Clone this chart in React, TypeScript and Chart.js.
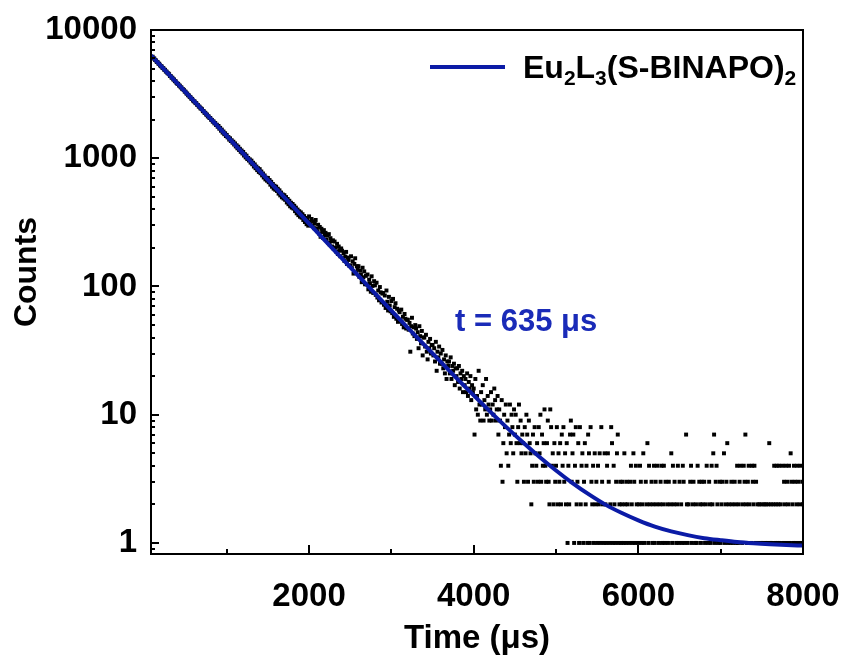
import { useEffect, useRef } from 'react';
import { Chart, registerables } from 'chart.js';

Chart.register(...registerables);

// Acquisition grid of the decay trace (μs)
const timeStart = 100;
const timeStep = 10;

// Photon counts per channel, 100–1990 μs
const earlyCounts = [
  6190, 6020, 5985, 5830, 5790, 5640, 5620, 5470, 5450, 5300,
  5220, 5200, 5050, 5040, 4900, 4890, 4750, 4730, 4610, 4580,
  4520, 4380, 4370, 4250, 4240, 4120, 4110, 3990, 3980, 3870,
  3810, 3800, 3690, 3680, 3580, 3560, 3460, 3450, 3400, 3310,
  3300, 3200, 3190, 3100, 3090, 3010, 2990, 2910, 2900, 2820,
  2780, 2770, 2690, 2690, 2610, 2600, 2530, 2520, 2450, 2440,
  2410, 2330, 2330, 2260, 2260, 2190, 2190, 2120, 2120, 2060,
  2060, 1995, 1990, 1930, 1935, 1870, 1880, 1815, 1825, 1760,
  1785, 1700, 1725, 1640, 1672, 1585, 1615, 1540, 1565, 1490,
  1520, 1455, 1462, 1398, 1430, 1362, 1381, 1322, 1345, 1280,
  1305, 1236, 1262, 1195, 1230, 1160, 1185, 1122, 1150, 1090,
  1120, 1050, 1076, 1015, 1048, 985, 1005, 960, 980, 925,
  958, 898, 922, 862, 895, 836, 861, 808, 836, 782,
  822, 764, 788, 735, 760, 708, 734, 684, 705, 668,
  702, 650, 676, 622, 655, 600, 630, 580, 610, 568,
  600, 556, 578, 530, 562, 513, 540, 496, 522, 485,
  515, 474, 498, 452, 481, 438, 466, 422, 450, 412,
  440, 405, 426, 387, 412, 372, 398, 360, 386, 350,
  378, 344, 366, 330, 354, 318, 342, 306, 330, 298,
];

// Photon counts per channel, 2000–3990 μs
const midCounts = [
  352, 318, 301, 336, 296, 322, 285, 309, 330, 281,
  270, 303, 259, 291, 244, 282, 266, 239, 275, 251,
  262, 231, 249, 220, 256, 213, 238, 226, 205, 229,
  196, 224, 201, 187, 215, 179, 205, 192, 172, 198,
  190, 166, 182, 158, 171, 186, 150, 168, 161, 145,
  146, 172, 139, 157, 126, 150, 166, 128, 144, 137,
  144, 119, 133, 124, 108, 140, 118, 131, 104, 121,
  104, 124, 95, 113, 106, 91, 120, 101, 89, 110,
  102, 86, 107, 82, 93, 78, 99, 90, 75, 88,
  89, 72, 85, 68, 93, 76, 65, 83, 71, 64,
  77, 62, 80, 58, 69, 74, 56, 67, 53, 65,
  63, 54, 66, 51, 58, 48, 61, 56, 47, 55,
  55, 46, 52, 31, 49, 57, 43, 48, 41, 50,
  47, 39, 44, 33, 49, 41, 36, 45, 29, 40,
  40, 34, 42, 31, 27, 37, 33, 39, 30, 35,
  35, 29, 33, 26, 37, 22, 31, 28, 34, 25,
  30, 25, 32, 23, 27, 21, 29, 19, 26, 24,
  26, 21, 28, 19, 24, 22, 25, 17, 23, 20,
  23, 18, 24, 16, 21, 19, 22, 15, 20, 17,
  19, 15, 21, 14, 18, 16, 20, 13, 17, 15,
];

// Photon counts per channel, 4000–8000 μs (0 = empty channel)
const tailCounts = [
  16, 7, 19, 11, 14, 10, 22, 12, 9, 15,
  12, 17, 9, 13, 11, 19, 10, 14, 12, 9,
  11, 15, 9, 12, 10, 16, 13, 9, 11, 14,
  7, 11, 9, 4, 13, 3, 6, 10, 8, 12,
  5, 9, 4, 7, 12, 6, 10, 8, 5, 11,
  7, 10, 6, 3, 8, 12, 6, 9, 5, 7,
  6, 3, 8, 5, 10, 7, 3, 9, 6, 5,
  2, 4, 7, 3, 8, 5, 4, 6, 3, 8,
  5, 10, 3, 7, 4, 6, 11, 4, 3, 6,
  9, 3, 2, 11, 8, 4, 5, 2, 6, 3,
  4, 8, 2, 5, 3, 6, 2, 7, 4, 8,
  3, 5, 2, 6, 1, 4, 2, 7, 9, 3,
  5, 7, 1, 4, 8, 2, 3, 6, 1, 8,
  2, 4, 5, 1, 3, 6, 2, 4, 1, 7,
  5, 1, 8, 3, 2, 4, 1, 5, 2, 3,
  1, 4, 2, 5, 1, 8, 3, 2, 1, 5,
  2, 1, 4, 5, 3, 1, 2, 8, 6, 1,
  4, 2, 1, 3, 5, 7, 1, 2, 3, 1,
  2, 3, 1, 5, 2, 1, 3, 2, 0, 1,
  3, 4, 2, 1, 5, 3, 1, 4, 2, 0,
  1, 2, 4, 3, 1, 2, 5, 1, 0, 3,
  2, 6, 1, 4, 2, 0, 3, 1, 2, 4,
  1, 3, 2, 4, 0, 1, 2, 3, 4, 1,
  2, 4, 1, 3, 0, 2, 1, 3, 0, 2,
  5, 1, 4, 2, 3, 0, 1, 2, 4, 1,
  3, 0, 2, 1, 4, 3, 1, 0, 7, 2,
  1, 2, 0, 3, 4, 1, 2, 3, 0, 1,
  2, 1, 4, 0, 3, 2, 1, 3, 2, 0,
  3, 1, 2, 4, 0, 1, 3, 2, 1, 4,
  2, 5, 7, 1, 3, 4, 2, 1, 0, 3,
  1, 2, 3, 0, 5, 1, 2, 3, 6, 1,
  2, 0, 1, 3, 2, 1, 0, 3, 2, 1,
  4, 1, 2, 3, 4, 0, 1, 2, 4, 3,
  7, 2, 1, 3, 4, 2, 0, 1, 4, 3,
  2, 4, 1, 3, 0, 2, 1, 2, 0, 1,
  2, 1, 0, 2, 1, 2, 0, 1, 2, 6,
  1, 2, 1, 0, 2, 4, 1, 2, 4, 1,
  2, 4, 1, 2, 0, 4, 1, 3, 2, 4,
  1, 3, 2, 4, 1, 5, 3, 2, 1, 4,
  3, 1, 2, 4, 3, 1, 2, 4, 1, 3,
  2,
];

// Mono-exponential fit (τ = 635 μs)
const fitTimes = [
  80, 200, 400, 600, 800, 1000, 1200, 1400, 1600, 1800,
  2000, 2200, 2400, 2600, 2800, 3000, 3200, 3400, 3600, 3800,
  4000, 4200, 4400, 4600, 4800, 5000, 5200, 5400, 5600, 5800,
  6000, 6200, 6400, 6600, 6800, 7000, 7200, 7400, 7600, 7800, 8000,
];
const fitCounts = [
  6349, 5256, 3836, 2800, 2044, 1492, 1089, 795, 580.5, 424,
  309.7, 226.2, 165.4, 120.9, 88.5, 64.8, 47.6, 35.0, 25.8, 19.05,
  14.15, 10.58, 7.97, 6.07, 4.68, 3.67, 2.93, 2.39, 1.99, 1.71,
  1.5, 1.34, 1.23, 1.15, 1.09, 1.05, 1.016, 0.993, 0.976, 0.963, 0.954,
];

const xTickValues = [2000, 4000, 6000, 8000];
const xMinorValues = [1000, 3000, 5000, 7000];
const yTickValues = [1, 10, 100, 1000, 10000];
const yMinorValues = [
  0.9, 2, 3, 4, 5, 6, 7, 8, 9,
  20, 30, 40, 50, 60, 70, 80, 90,
  200, 300, 400, 500, 600, 700, 800, 900,
  2000, 3000, 4000, 5000, 6000, 7000, 8000, 9000,
];

const xTitle = 'Time (μs)';
const yTitle = 'Counts';
const lifetimeLabel = 't = 635 μs';
// Legend entry: Eu₂L₃(S-BINAPO)₂ written as runs of normal and subscript text
const legendRuns = [
  { text: 'Eu', sub: false },
  { text: '2', sub: true },
  { text: 'L', sub: false },
  { text: '3', sub: true },
  { text: '(S-BINAPO)', sub: false },
  { text: '2', sub: true },
];

const FONT = "'Liberation Sans', Arial, Helvetica, sans-serif";
const LINE_BLUE = '#0b1ba6';
const TEXT_BLUE = '#1a2bb8';

const decorPlugin = {
  id: 'decor',
  afterDatasetsDraw(chart: any) {
    const { ctx, chartArea: a, scales } = chart;
    const xs = scales.x;
    const ys = scales.y;
    ctx.save();

    // frame
    ctx.strokeStyle = '#000';
    ctx.lineWidth = 2;
    ctx.strokeRect(a.left, a.top, a.right - a.left, a.bottom - a.top);

    // inward tick marks
    const seg = (x1: number, y1: number, x2: number, y2: number) => {
      ctx.beginPath();
      ctx.moveTo(x1, y1);
      ctx.lineTo(x2, y2);
      ctx.stroke();
    };
    xTickValues.forEach((v) => {
      const px = Math.round(xs.getPixelForValue(v));
      seg(px, a.bottom, px, a.bottom - 9);
    });
    xMinorValues.forEach((v) => {
      const px = Math.round(xs.getPixelForValue(v));
      seg(px, a.bottom, px, a.bottom - 5);
    });
    yTickValues.forEach((v) => {
      const py = Math.round(ys.getPixelForValue(v));
      seg(a.left, py, a.left + 8, py);
    });
    yMinorValues.forEach((v) => {
      const py = Math.round(ys.getPixelForValue(v));
      if (py > a.top && py < a.bottom) seg(a.left, py, a.left + 4, py);
    });

    // legend
    const legendY = 67;
    ctx.strokeStyle = LINE_BLUE;
    ctx.lineWidth = 4;
    seg(430, legendY, 505, legendY);
    let lx = 523;
    ctx.fillStyle = '#000';
    ctx.textAlign = 'left';
    ctx.textBaseline = 'alphabetic';
    legendRuns.forEach((r) => {
      ctx.font = r.sub ? `bold 21px ${FONT}` : `bold 32px ${FONT}`;
      ctx.fillText(r.text, lx, r.sub ? legendY + 18 : legendY + 11);
      lx += ctx.measureText(r.text).width;
    });

    // lifetime annotation
    ctx.fillStyle = TEXT_BLUE;
    ctx.font = `bold 31px ${FONT}`;
    ctx.fillText(lifetimeLabel, 455, 331);

    // axis titles
    ctx.fillStyle = '#000';
    ctx.textAlign = 'center';
    ctx.font = `bold 33px ${FONT}`;
    ctx.fillText(xTitle, (a.left + a.right) / 2, 648);
    ctx.save();
    ctx.translate(36, 272);
    ctx.rotate(-Math.PI / 2);
    ctx.font = `bold 32px ${FONT}`;
    ctx.fillText(yTitle, 0, 0);
    ctx.restore();

    ctx.restore();
  },
};

const zeroScalePadding = (s: any) => {
  s.paddingLeft = 0;
  s.paddingRight = 0;
  s.paddingTop = 0;
  s.paddingBottom = 0;
};

export default function App() {
  const canvasRef = useRef<HTMLCanvasElement>(null);

  useEffect(() => {
    const canvas = canvasRef.current;
    if (!canvas) return;

    const counts = [...earlyCounts, ...midCounts, ...tailCounts];
    const decayPoints = counts
      .map((c, i) => ({ x: timeStart + i * timeStep, y: c }))
      .filter((p) => p.y > 0);
    const fitPoints = fitTimes.map((t, i) => ({ x: t, y: fitCounts[i] }));

    const tickFont = { family: FONT, size: 33, weight: 'bold' as const };

    const chart = new Chart(canvas, {
      type: 'scatter',
      data: {
        datasets: [
          {
            label: 'fit',
            data: fitPoints,
            showLine: true,
            borderColor: LINE_BLUE,
            backgroundColor: LINE_BLUE,
            borderWidth: 4,
            pointRadius: 0,
            cubicInterpolationMode: 'monotone',
            order: 0,
            clip: 0,
          } as any,
          {
            label: 'decay',
            data: decayPoints,
            pointStyle: 'rect',
            pointRadius: 2.8,
            backgroundColor: '#000',
            borderWidth: 0,
            order: 1,
            clip: 0,
          } as any,
        ],
      },
      options: {
        responsive: false,
        animation: false,
        devicePixelRatio: 1,
        events: [],
        layout: { padding: { top: 30, right: 42, bottom: 0, left: 0 } },
        plugins: {
          legend: { display: false },
          tooltip: { enabled: false },
        },
        scales: {
          x: {
            type: 'linear',
            position: 'bottom',
            min: 80,
            max: 8000,
            bounds: 'data',
            grid: { display: false, drawTicks: false },
            border: { display: false },
            ticks: {
              color: '#000',
              font: tickFont,
              padding: 23,
              maxRotation: 0,
              autoSkip: false,
              callback: (v: any) => String(v),
            },
            afterBuildTicks: (s: any) => {
              s.ticks = xTickValues.map((value) => ({ value }));
            },
            afterFit: (s: any) => {
              s.height = 105;
              zeroScalePadding(s);
            },
          },
          y: {
            type: 'logarithmic',
            min: 0.82,
            max: 10000,
            bounds: 'data',
            grid: { display: false, drawTicks: false },
            border: { display: false },
            ticks: {
              color: '#000',
              font: tickFont,
              padding: 14,
              autoSkip: false,
              callback: (v: any) => String(v),
            },
            afterBuildTicks: (s: any) => {
              s.ticks = yTickValues.map((value) => ({ value }));
            },
            afterFit: (s: any) => {
              s.width = 151;
              zeroScalePadding(s);
            },
          },
        } as any,
      },
      plugins: [decorPlugin],
    });

    return () => chart.destroy();
  }, []);

  return (
    <div style={{ position: 'absolute', left: 0, top: 0, width: 845, height: 659, background: '#fff' }}>
      <canvas ref={canvasRef} width={845} height={659} style={{ display: 'block' }} />
    </div>
  );
}
